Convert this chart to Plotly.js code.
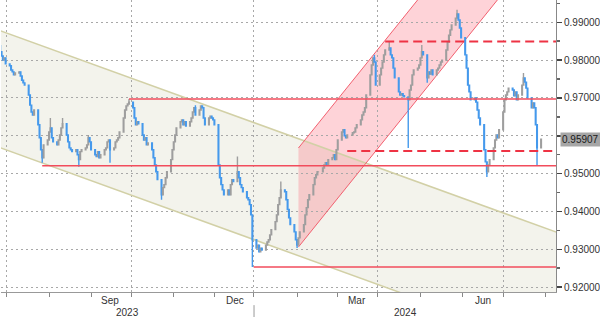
<!DOCTYPE html>
<html>
<head>
<meta charset="utf-8">
<script src="https://cdn.plot.ly/plotly-3.0.1.min.js"></script>
<style>html,body{margin:0;padding:0;background:#fff;}#chart{width:600px;height:317px;}</style>
</head>
<body>
<div id="chart"></div>
<script>
// ---- Data (daily closes, weekdays from 2023-06-26) ----
const firstDate = '2023-06-26';
const firstOpen = 0.9838;
const closes = [
 0.9822,0.9811,0.9800,0.9806,0.9790,
 0.9785,0.9774,0.9769,0.9761,0.9766,
 0.9769,0.9758,0.9747,0.9740,0.9734,
 0.9708,0.9681,0.9663,0.9655,0.9668,
 0.9629,0.9595,0.9563,0.9542,0.9576,
 0.9589,0.9610,0.9621,0.9595,0.9584,
 0.9576,0.9589,0.9602,0.9621,0.9632,
 0.9602,0.9584,0.9568,0.9563,0.9558,
 0.9563,0.9550,0.9537,0.9558,0.9563,
 0.9568,0.9576,0.9595,0.9584,0.9563,
 0.9550,0.9545,0.9558,0.9542,0.9550,
 0.9563,0.9568,0.9584,0.9589,0.9563,
 0.9568,0.9584,0.9589,0.9595,0.9610,
 0.9647,0.9668,0.9679,0.9684,0.9689,
 0.9674,0.9647,0.9629,0.9637,0.9632,
 0.9602,0.9589,0.9595,0.9576,0.9581,
 0.9563,0.9542,0.9523,0.9505,0.9484,
 0.9444,0.9463,0.9471,0.9489,0.9505,
 0.9537,0.9563,0.9584,0.9602,0.9621,
 0.9637,0.9642,0.9629,0.9637,0.9626,
 0.9637,0.9647,0.9663,0.9674,0.9655,
 0.9668,0.9679,0.9674,0.9647,0.9629,
 0.9647,0.9652,0.9647,0.9642,0.9629,
 0.9523,0.9489,0.9471,0.9457,0.9444,
 0.9457,0.9444,0.9471,0.9484,0.9479,
 0.9505,0.9489,0.9471,0.9463,0.9452,
 0.9436,0.9431,0.9418,0.9391,0.9325,
 0.9303,0.9311,0.9293,0.9303,0.9298,
 0.9311,0.9319,0.9325,0.9338,0.9352,
 0.9373,0.9391,0.9418,0.9436,0.9457,
 0.9452,0.9431,0.9405,0.9383,0.9365,
 0.9346,0.9325,0.9311,0.9330,0.9346,
 0.9365,0.9391,0.9410,0.9431,0.9444,
 0.9471,0.9489,0.9497,0.9505,0.9505,
 0.9515,0.9523,0.9529,0.9523,0.9537,
 0.9542,0.9550,0.9537,0.9563,0.9589,
 0.9610,0.9616,0.9600,0.9595,0.9602,
 0.9602,0.9608,0.9610,0.9621,0.9629,
 0.9642,0.9655,0.9663,0.9674,0.9708,
 0.9761,0.9787,0.9806,0.9795,0.9734,
 0.9761,0.9779,0.9795,0.9814,0.9827,
 0.9832,0.9814,0.9806,0.9779,0.9753,
 0.9716,0.9708,0.9711,0.9706,0.9703,
 0.9695,0.9721,0.9734,0.9761,0.9774,
 0.9779,0.9787,0.9806,0.9822,0.9814,
 0.9753,0.9769,0.9763,0.9774,0.9761,
 0.9774,0.9779,0.9787,0.9795,0.9800,
 0.9827,0.9848,0.9866,0.9880,0.9893,
 0.9911,0.9922,0.9906,0.9885,0.9859,
 0.9814,0.9779,0.9734,0.9716,0.9695,
 0.9700,0.9689,0.9668,0.9647,0.9629,
 0.9563,0.9531,0.9505,0.9523,0.9537,
 0.9568,0.9589,0.9602,0.9595,0.9616,
 0.9663,0.9695,0.9708,0.9716,0.9726,
 0.9721,0.9706,0.9716,0.9695,0.9708,
 0.9734,0.9753,0.9742,0.9726,0.9700,
 0.9674,0.9687,0.9674,0.9629,0.9568,
 0.95907
];
const spikeHigh = {
 '2023-08-02':0.9647,'2023-08-11':0.9647,'2023-08-30':0.9602,'2023-09-29':0.9697,
 '2023-11-17':0.9681,'2023-12-18':0.9545,'2024-01-19':0.9479,'2024-03-28':0.9814,
 '2024-04-08':0.9848,'2024-05-02':0.9840,'2024-05-28':0.9933,'2024-07-16':0.9766
};
const spikeLow = {
 '2023-07-27':0.9529,'2023-08-23':0.9518,'2023-09-15':0.9529,'2023-10-23':0.9431,
 '2023-12-29':0.9253,'2024-01-31':0.9303,'2024-04-22':0.9568,'2024-05-06':0.9740,
 '2024-06-19':0.9491,'2024-07-26':0.9523
};
const lastPrice = 0.95907;

// technical overlays (price levels)
const descChannel = {start:'2023-06-26', end:'2024-08-10', upper:[0.98778, 0.93443], lower:[0.95685, 0.90350]};
const ascChannel = {start:'2024-02-01', end:'2024-08-10', upper:[0.95677, 1.04180], lower:[0.93060, 1.01560]};
const solidLevels = [[0.9697,'2023-09-29'],[0.9521,'2023-07-27'],[0.9253,'2023-12-30']];
const dashedLevels = [[0.9849,'2024-04-05'],[0.9560,'2024-03-08']];
const levelEnd = '2024-08-10';

// axis labels
const yTicks = [0.92,0.93,0.94,0.95,0.96,0.97,0.98,0.99];
const yTickText = ['0.92000','0.93000','0.94000','0.95000','','0.97000','0.98000','0.99000'];
const gridDates = ['2023-07-01','2023-10-01','2023-12-30','2024-03-30','2024-07-01'];
const monthTickDates = ['2023-07-01','2023-08-01','2023-09-01','2023-10-01','2023-11-01','2023-12-01','2023-12-30','2024-01-31','2024-03-01','2024-03-30','2024-05-01','2024-06-01','2024-07-01','2024-08-01'];
const monthLabels = ['Sep','Dec','Mar','Jun'];
const monthLabelDates = ['2023-09-15','2023-12-16','2024-03-15','2024-06-16'];
const yearLabels = ['2023','2024'];
const yearLabelPos = [0.2288, 0.728];

// ---- build ----
function weekdays(start, n){
  const out=[]; const p=start.split('-').map(Number);
  let d=new Date(Date.UTC(p[0],p[1]-1,p[2]));
  while(out.length<n){
    const wd=d.getUTCDay();
    if(wd!==0&&wd!==6) out.push(d.toISOString().slice(0,10));
    d=new Date(d.getTime()+86400000);
  }
  return out;
}
const dates = weekdays(firstDate, closes.length);
const opens = [firstOpen].concat(closes.slice(0,-1));
const highs = dates.map((d,i)=> spikeHigh[d]!==undefined ? spikeHigh[d] : Math.max(opens[i],closes[i]));
const lows = dates.map((d,i)=> spikeLow[d]!==undefined ? spikeLow[d] : Math.min(opens[i],closes[i]));

const trace = {
  type:'candlestick', x:dates, open:opens, high:highs, low:lows, close:closes,
  increasing:{line:{color:'#9e9e9e',width:1.4}, fillcolor:'#9e9e9e'},
  decreasing:{line:{color:'#4599ec',width:1.4}, fillcolor:'#4599ec'},
  whiskerwidth:0, hoverinfo:'skip'
};

function p(d,v){ return d+','+v; }
const shapes = [];
shapes.push({type:'path', layer:'below', xref:'x', yref:'y',
  path:'M'+p(descChannel.start,descChannel.upper[0])+'L'+p(descChannel.end,descChannel.upper[1])+'L'+p(descChannel.end,descChannel.lower[1])+'L'+p(descChannel.start,descChannel.lower[0])+'Z',
  fillcolor:'#f3f3ec', line:{width:0}});
shapes.push({type:'path', layer:'below', xref:'x', yref:'y',
  path:'M'+p(ascChannel.start,ascChannel.upper[0])+'L'+p(ascChannel.end,ascChannel.upper[1])+'L'+p(ascChannel.end,ascChannel.lower[1])+'L'+p(ascChannel.start,ascChannel.lower[0])+'Z',
  fillcolor:'rgba(250,105,120,0.29)', line:{width:0}});
['upper','lower'].forEach(k=>{
  shapes.push({type:'line', layer:'between', xref:'x', yref:'y', x0:descChannel.start, x1:descChannel.end, y0:descChannel[k][0], y1:descChannel[k][1], line:{color:'#d2d0a6', width:1.5}});
  shapes.push({type:'line', layer:'between', xref:'x', yref:'y', x0:ascChannel.start, x1:ascChannel.end, y0:ascChannel[k][0], y1:ascChannel[k][1], line:{color:'#f2606f', width:1}});
});
solidLevels.forEach(l=>shapes.push({type:'line', layer:'above', xref:'x', yref:'y', x0:l[1], x1:levelEnd, y0:l[0], y1:l[0], line:{color:'#f24c5c', width:1.5}}));
dashedLevels.forEach(l=>shapes.push({type:'line', layer:'above', xref:'x', yref:'y', x0:l[1], x1:levelEnd, y0:l[0], y1:l[0], line:{color:'#ee3344', width:2, dash:'9px,5px'}}));
shapes.push({type:'line', xref:'paper', yref:'paper', x0:0.4559, x1:0.4559, y0:-0.045, y1:-0.09, line:{color:'#999', width:1}});

const font = {family:'Liberation Sans, Arial, sans-serif', size:10, color:'#333'};
const annotations = [];
monthLabels.forEach((t,i)=>annotations.push({xref:'x', yref:'paper', x:monthLabelDates[i], y:-0.0274, yanchor:'middle', xanchor:'center', text:t, showarrow:false, font:font}));
yearLabels.forEach((t,i)=>annotations.push({xref:'paper', yref:'paper', x:yearLabelPos[i], y:-0.0685, yanchor:'middle', xanchor:'center', text:t, showarrow:false, font:font}));
annotations.push({xref:'paper', yref:'y', x:1, xshift:4, xanchor:'left', y:lastPrice, yanchor:'middle', text:lastPrice.toFixed(5), showarrow:false, bgcolor:'#a6a6a6', borderpad:1, font:{family:font.family, size:10, color:'#1a1a1a'}});

const layout = {
  width:600, height:317, margin:{l:1, r:44, t:0, b:25},
  paper_bgcolor:'#fff', plot_bgcolor:'#fff', showlegend:false, font:font,
  xaxis:{type:'date', range:['2023-06-26 14:00','2024-08-09'], rangeslider:{visible:false},
    tickmode:'array', tickvals:gridDates, ticktext:gridDates.map(()=>''), ticks:'outside', ticklen:4, tickcolor:'#888',
    showgrid:true, gridcolor:'#a8a8a8', griddash:'2px,3px', gridwidth:1,
    minor:{tickmode:'array', tickvals:monthTickDates, ticks:'outside', ticklen:4, tickcolor:'#888', showgrid:false},
    showline:true, linecolor:'#999', zeroline:false, fixedrange:true},
  yaxis:{side:'right', range:[0.9187,0.9959], tickmode:'array', tickvals:yTicks, ticktext:yTickText,
    ticks:'outside', ticklen:5, tickwidth:1.5, tickcolor:'#444',
    showgrid:true, gridcolor:'#a8a8a8', griddash:'2px,3px', gridwidth:1,
    minor:{tickmode:'array', tickvals:[0.925,0.935,0.945,0.955,0.965,0.975,0.985,0.995], ticks:'outside', ticklen:3, tickcolor:'#666', showgrid:false},
    showline:true, linecolor:'#888', zeroline:false, fixedrange:true, tickfont:font},
  shapes:shapes, annotations:annotations
};
Plotly.newPlot('chart',[trace],layout,{staticPlot:true, displayModeBar:false});
</script>
</body>
</html>
